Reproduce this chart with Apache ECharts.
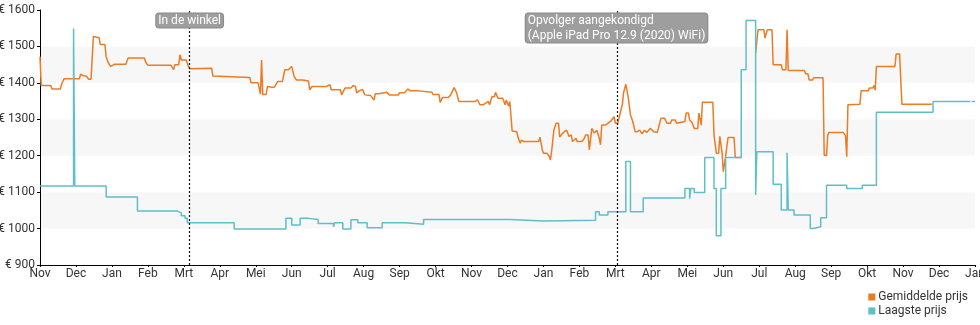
<!DOCTYPE html>
<html>
<head>
<meta charset="utf-8">
<script src="https://cdn.jsdelivr.net/npm/echarts@6/dist/echarts.min.js"></script>
<style>
html,body{margin:0;padding:0;background:#fff;}
#chart{width:980px;height:325px;}
</style>
</head>
<body>
<div id="chart"></div>
<script>
// Month tick labels (Nov 2018 .. Jan 2021)
const monthLabels = ['Nov','Dec','Jan','Feb','Mrt','Apr','Mei','Jun','Jul','Aug','Sep','Okt','Nov','Dec','Jan','Feb','Mrt','Apr','Mei','Jun','Jul','Aug','Sep','Okt','Nov','Dec','Jan'];
const yTicks = [900, 1000, 1100, 1200, 1300, 1400, 1500, 1600];

const seriesNames = ['Gemiddelde prijs', 'Laagste prijs'];

// Gemiddelde prijs: [date, price]
const avgPrice = [
['2018-11-01',1472],['2018-11-02',1393],['2018-11-10',1393],['2018-11-11',1383],['2018-11-18',1383],
['2018-11-19',1396],['2018-11-21',1411],['2018-11-30',1411],['2018-12-04',1411],['2018-12-05',1424],
['2018-12-07',1420],['2018-12-10',1418],['2018-12-12',1410],['2018-12-14',1410],['2018-12-16',1527],
['2018-12-21',1524],['2018-12-22',1505],['2018-12-26',1505],['2018-12-27',1472],['2018-12-29',1454],
['2018-12-31',1445],['2019-01-03',1451],['2019-01-13',1451],['2019-01-15',1468],['2019-01-29',1468],
['2019-01-30',1458],['2019-02-01',1448],['2019-02-19',1448],['2019-02-21',1436],['2019-02-22',1450],
['2019-02-25',1450],['2019-02-26',1477],['2019-02-27',1463],['2019-03-03',1463],['2019-03-05',1445],
['2019-03-06',1439],['2019-03-25',1440],['2019-03-26',1419],['2019-04-26',1415],['2019-04-27',1400],
['2019-05-03',1400],['2019-05-05',1369],['2019-05-06',1463],['2019-05-07',1368],['2019-05-10',1368],
['2019-05-11',1390],['2019-05-15',1388],['2019-05-16',1393],['2019-05-17',1388],['2019-05-20',1404],
['2019-05-24',1404],['2019-05-26',1436],['2019-05-29',1436],['2019-06-01',1445],['2019-06-03',1417],
['2019-06-05',1408],['2019-06-10',1408],['2019-06-11',1405],['2019-06-15',1405],['2019-06-16',1381],
['2019-06-18',1390],['2019-06-30',1390],['2019-07-03',1395],['2019-07-04',1381],['2019-07-12',1381],
['2019-07-13',1367],['2019-07-14',1367],['2019-07-16',1386],['2019-07-21',1386],['2019-07-23',1393],
['2019-07-25',1390],['2019-07-26',1372],['2019-07-28',1378],['2019-07-31',1382],['2019-08-01',1378],
['2019-08-02',1367],['2019-08-07',1365],['2019-08-10',1353],['2019-08-11',1370],['2019-08-14',1370],
['2019-08-15',1374],['2019-08-21',1374],['2019-08-23',1367],['2019-08-31',1367],['2019-09-01',1373],
['2019-09-05',1373],['2019-09-08',1383],['2019-09-10',1378],['2019-09-17',1378],['2019-09-18',1374],
['2019-09-28',1374],['2019-09-29',1368],['2019-10-04',1368],['2019-10-05',1346],['2019-10-07',1360],
['2019-10-12',1360],['2019-10-14',1367],['2019-10-17',1387],['2019-10-19',1374],['2019-10-21',1349],
['2019-10-30',1349],['2019-11-04',1349],['2019-11-06',1353],['2019-11-08',1340],['2019-11-11',1340],
['2019-11-12',1336],['2019-11-15',1349],['2019-11-16',1340],['2019-11-18',1362],['2019-11-20',1362],
['2019-11-21',1374],['2019-11-23',1358],['2019-11-27',1358],['2019-11-29',1340],['2019-11-30',1353],
['2019-12-02',1336],['2019-12-03',1349],['2019-12-04',1349],['2019-12-05',1268],['2019-12-09',1266],
['2019-12-10',1251],['2019-12-12',1234],['2019-12-13',1243],['2019-12-15',1239],['2019-12-28',1239],
['2019-12-29',1251],['2019-12-31',1216],['2020-01-01',1207],['2020-01-04',1207],['2020-01-06',1198],
['2020-01-07',1188],['2020-01-08',1211],['2020-01-10',1271],['2020-01-12',1289],['2020-01-14',1289],
['2020-01-15',1251],['2020-01-17',1260],['2020-01-19',1266],['2020-01-21',1270],['2020-01-22',1266],
['2020-01-23',1253],['2020-01-25',1257],['2020-01-26',1239],['2020-01-29',1248],['2020-01-30',1239],
['2020-02-03',1239],['2020-02-05',1248],['2020-02-06',1257],['2020-02-08',1257],['2020-02-09',1216],
['2020-02-11',1275],['2020-02-13',1262],['2020-02-15',1270],['2020-02-17',1248],['2020-02-18',1230],
['2020-02-19',1284],['2020-02-22',1284],['2020-02-23',1289],['2020-02-26',1294],['2020-02-27',1289],
['2020-02-29',1307],['2020-03-01',1289],['2020-03-03',1289],['2020-03-04',1303],['2020-03-07',1340],
['2020-03-08',1372],['2020-03-10',1396],['2020-03-12',1362],['2020-03-14',1312],['2020-03-16',1294],
['2020-03-18',1266],['2020-03-20',1266],['2020-03-22',1270],['2020-03-24',1260],['2020-03-26',1270],
['2020-03-28',1264],['2020-03-31',1275],['2020-04-03',1266],['2020-04-06',1264],['2020-04-09',1303],
['2020-04-12',1303],['2020-04-14',1289],['2020-04-17',1289],['2020-04-18',1298],['2020-04-21',1298],
['2020-04-22',1289],['2020-04-23',1294],['2020-04-29',1294],['2020-04-30',1317],['2020-05-02',1317],
['2020-05-03',1298],['2020-05-05',1292],['2020-05-07',1275],['2020-05-10',1275],['2020-05-11',1317],
['2020-05-13',1284],['2020-05-14',1347],['2020-05-23',1347],['2020-05-24',1257],['2020-05-26',1207],
['2020-05-28',1207],['2020-05-29',1253],['2020-05-31',1207],['2020-06-01',1156],['2020-06-03',1200],
['2020-06-05',1250],['2020-06-10',1250],['2020-06-11',1195],['2020-06-16',1195],['2020-06-20',null],
['2020-06-28',1482],['2020-06-30',1546],['2020-07-05',1546],['2020-07-06',1523],['2020-07-07',1523],
['2020-07-08',1546],['2020-07-12',1546],['2020-07-13',1450],['2020-07-20',1450],['2020-07-21',1436],
['2020-07-24',1436],['2020-07-25',1546],['2020-07-26',1434],['2020-08-09',1434],['2020-08-10',1425],
['2020-08-12',1425],['2020-08-13',1408],['2020-08-16',1408],['2020-08-17',1414],['2020-08-25',1414],
['2020-08-26',1202],['2020-08-28',1200],['2020-08-29',1255],['2020-08-30',1264],['2020-09-11',1264],
['2020-09-13',1255],['2020-09-14',1197],['2020-09-15',1340],['2020-09-25',1341],['2020-09-26',1378],
['2020-10-02',1378],['2020-10-03',1386],['2020-10-06',1386],['2020-10-07',1393],['2020-10-08',1380],
['2020-10-09',1445],['2020-10-25',1445],['2020-10-26',1479],['2020-10-29',1479],['2020-10-31',1341],
['2020-11-25',1341]
];

// Laagste prijs: [date the price took effect, price]
const lowPrice = [
['2018-11-01',1117],['2018-11-29',1549],['2018-11-30',1117],['2018-12-27',1087],['2019-01-23',1048],
['2019-02-24',1043],['2019-02-27',1035],['2019-03-02',1028],['2019-03-04',1016],['2019-04-13',999],
['2019-05-27',1028],['2019-06-01',1010],['2019-06-08',1028],['2019-06-15',1025],['2019-06-23',1014],
['2019-07-06',1005],['2019-07-07',1016],['2019-07-14',999],['2019-07-21',1024],['2019-07-27',1016],
['2019-08-04',1002],['2019-08-17',1016],['2019-09-06',1012],['2019-09-21',1025],['2019-12-03',1021],
['2020-01-01',1023],['2020-02-14',1046],['2020-02-17',1037],['2020-02-24',1046],['2020-03-10',1184],
['2020-03-14',1046],['2020-03-25',1084],['2020-04-29',1110],['2020-05-03',1082],['2020-05-04',1110],
['2020-05-07',1099],['2020-05-16',1195],['2020-05-24',1110],['2020-05-26',980],['2020-05-30',1110],
['2020-06-03',1195],['2020-06-16',1436],['2020-06-20',1571],['2020-06-28',1092],['2020-06-29',1211],
['2020-07-13',1122],['2020-07-20',1051],['2020-07-25',1208],['2020-07-26',1051],['2020-07-31',1037],
['2020-08-14',1000],['2020-08-17',1005],['2020-08-23',1030],['2020-08-28',1119],['2020-09-14',1110],
['2020-09-27',1119],['2020-10-09',1319],['2020-11-26',1349],['2020-12-27',1349],['2020-12-28',null],
['2020-12-29',1349],['2021-01-01',1349]
];

const eventDates = ['2019-03-06', '2020-03-03'];
const eventLabels = ['In de winkel', 'Opvolger aangekondigd\n(Apple iPad Pro 12.9 (2020) WiFi)'];

// months since Nov 2018 (the reference spaces months evenly)
function toX(s) {
  const p = s.split('-').map(Number);
  const dim = new Date(p[0], p[1], 0).getDate();
  return (p[0] - 2018) * 12 + (p[1] - 11) + (p[2] - 1) / dim;
}
function toSeries(arr) {
  return arr.map(d => [toX(d[0]), d[1] === null ? '-' : d[1]]);
}

const chart = echarts.init(document.getElementById('chart'), null, {renderer: 'canvas'});
const FONT = 'Roboto, "Noto Sans", sans-serif';

chart.setOption({
  animation: false,
  textStyle: {fontFamily: FONT},
  grid: {left: 40, right: 5, top: 10, bottom: 60, containLabel: false, outerBoundsMode: 'none'},
  legend: {
    data: seriesNames,
    orient: 'vertical',
    right: 7,
    top: 285,
    padding: 5,
    align: 'left',
    icon: 'rect',
    itemWidth: 7,
    itemHeight: 7,
    itemGap: 0,
    textStyle: {fontSize: 12, lineHeight: 14, color: '#333', fontFamily: FONT, padding: [0, 0, 0, -2]}
  },
  xAxis: {
    type: 'value',
    min: 0,
    max: monthLabels.length - 1,
    interval: 1,
    splitLine: {show: false},
    axisLine: {show: true, lineStyle: {color: '#000', width: 1}},
    axisTick: {show: true, length: 2, lineStyle: {color: '#000'}},
    axisLabel: {
      margin: 3,
      fontSize: 12,
      color: '#333',
      fontFamily: FONT,
      formatter: v => monthLabels[Math.round(v)]
    }
  },
  yAxis: {
    type: 'value',
    min: yTicks[0],
    max: yTicks[yTicks.length - 1],
    interval: 100,
    splitLine: {show: false},
    splitArea: {show: true, areaStyle: {color: ['#ffffff', '#f7f7f7']}},
    axisLine: {show: true, lineStyle: {color: '#000', width: 1}},
    axisTick: {show: true, length: 3, lineStyle: {color: '#000'}},
    axisLabel: {margin: 5, fontSize: 12, color: '#333', fontFamily: FONT, formatter: v => '€ ' + v}
  },
  series: [
    {
      name: seriesNames[0],
      type: 'line',
      data: toSeries(avgPrice),
      showSymbol: false,
      connectNulls: false,
      lineStyle: {color: '#ec7c24', width: 1.5},
      itemStyle: {color: '#ec7c24'},
      z: 2,
      markLine: {
        silent: true,
        symbol: ['none', 'none'],
        label: {show: false},
        lineStyle: {type: [2, 2], color: '#111', width: 1.2},
        data: eventDates.map(d => ({xAxis: toX(d)}))
      },
      markPoint: {
        silent: true,
        symbol: 'rect',
        symbolSize: 1,
        itemStyle: {color: 'rgba(0,0,0,0)'},
        label: {
          show: true,
          position: 'bottom',
          distance: 3,
          color: '#fff',
          fontSize: 12,
          lineHeight: 15,
          fontFamily: FONT,
          backgroundColor: '#9e9e9e',
          borderColor: '#8a8a8a',
          borderWidth: 1,
          borderRadius: 3,
          padding: [0, 2, -1, 2],
          formatter: p => p.name
        },
        data: eventDates.map((d, i) => {
          const item = {name: eventLabels[i], coord: [toX(d), yTicks[yTicks.length - 1]]};
          if (i === 1) item.label = {align: 'left', offset: [-92, 0]};
          return item;
        })
      }
    },
    {
      name: seriesNames[1],
      type: 'line',
      step: 'end',
      data: toSeries(lowPrice),
      showSymbol: false,
      connectNulls: false,
      lineStyle: {color: '#5ebfc7', width: 1.5},
      itemStyle: {color: '#5ebfc7'},
      z: 3
    }
  ]
});
</script>
</body>
</html>
